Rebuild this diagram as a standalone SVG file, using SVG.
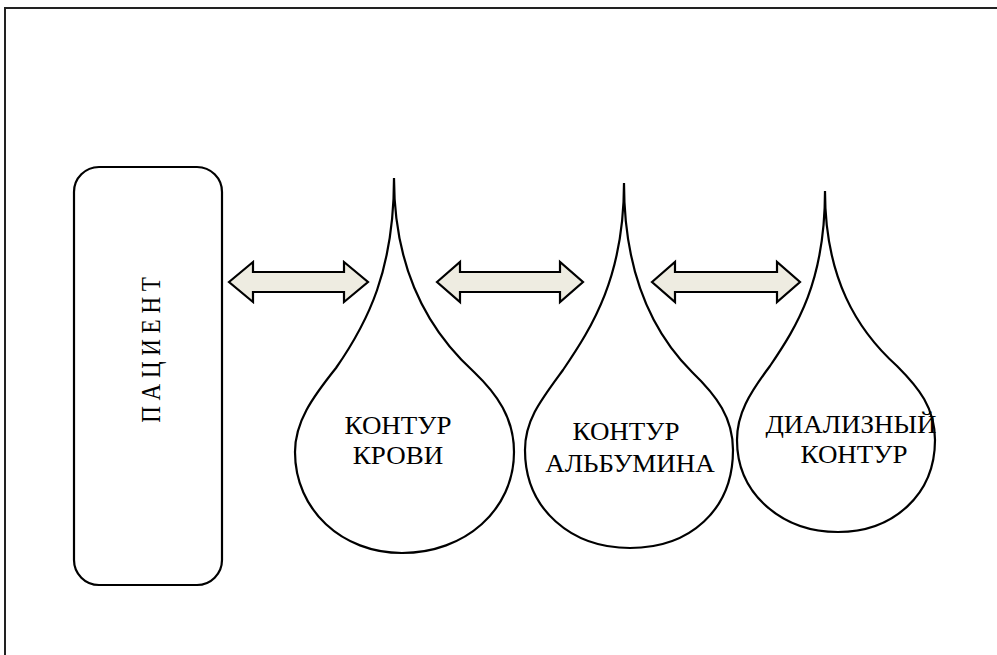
<svg xmlns="http://www.w3.org/2000/svg" width="997" height="655" viewBox="0 0 997 655">
<defs>
<style>
.frame{fill:none;stroke:#222;stroke-width:2}
.box{fill:#fff;stroke:#000;stroke-width:2.2}
.drop{fill:#fff;stroke:#000;stroke-width:2.2}
.arr{fill:#EEECE1;stroke:#000;stroke-width:2.2;stroke-linejoin:miter}
.t{font-family:"Liberation Serif","Times New Roman",serif;font-size:25px;fill:#000;text-anchor:middle}
.pt{font-family:"Liberation Serif","Times New Roman",serif;font-size:23px;fill:#000;text-anchor:middle}
</style>
</defs>
<rect width="997" height="655" fill="#fff"/>
<path class="frame" d="M5,655 V8 H997"/>
<g id="patient">
<rect class="box" x="74" y="167" width="148" height="418" rx="25" ry="25"/>
<text class="pt" transform="translate(160,350) scale(1.15,1) rotate(-90)">П А Ц И Е Н Т</text>
</g>
<g id="drop-blood">
<path class="drop" d="M394,178 C394,270 368,322 336,368 C312,398 295,422 295,452 C295,510 342,553 402,553 C465,553 514,510 514,452 C514,418 497,394 474,372 C430,332 394,272 394,178 Z"/>
<text class="t" transform="translate(398,434) scale(1.08,1)">КОНТУР</text>
<text class="t" transform="translate(398,464) scale(1.08,1)">КРОВИ</text>
</g>
<g id="drop-albumin">
<path class="drop" d="M624,183 C624,276 593,326 563,370 C541,400 525,420 525,450 C525,510 572,548 630,548 C690,548 733,510 733,450 C733,418 717,396 692,372 C656,336 624,278 624,183 Z"/>
<text class="t" transform="translate(626,440) scale(1.08,1)">КОНТУР</text>
<text class="t" transform="translate(630,472) scale(1.08,1)">АЛЬБУМИНА</text>
</g>
<g id="drop-dialysis">
<path class="drop" d="M825,191 C825,282 797,326 770,366 C749,394 737,414 737,440 C737,495 783,532 838,532 C893,532 935,495 935,440 C935,408 919,388 897,366 C857,330 825,278 825,191 Z"/>
<text class="t" transform="translate(851,433) scale(1.08,1)">ДИАЛИЗНЫЙ</text>
<text class="t" transform="translate(854,463) scale(1.08,1)">КОНТУР</text>
</g>
<g id="connectors">
<path class="arr" d="M229,282 L253,262 L253,272 L344,272 L344,262 L368,282 L344,302 L344,292 L253,292 L253,302 Z"/>
<path class="arr" d="M437,282 L460,262 L460,272 L560,272 L560,262 L583,282 L560,302 L560,292 L460,292 L460,302 Z"/>
<path class="arr" d="M652,282 L675,262 L675,272 L777,272 L777,262 L800,282 L777,302 L777,292 L675,292 L675,302 Z"/>
</g>
</svg>
